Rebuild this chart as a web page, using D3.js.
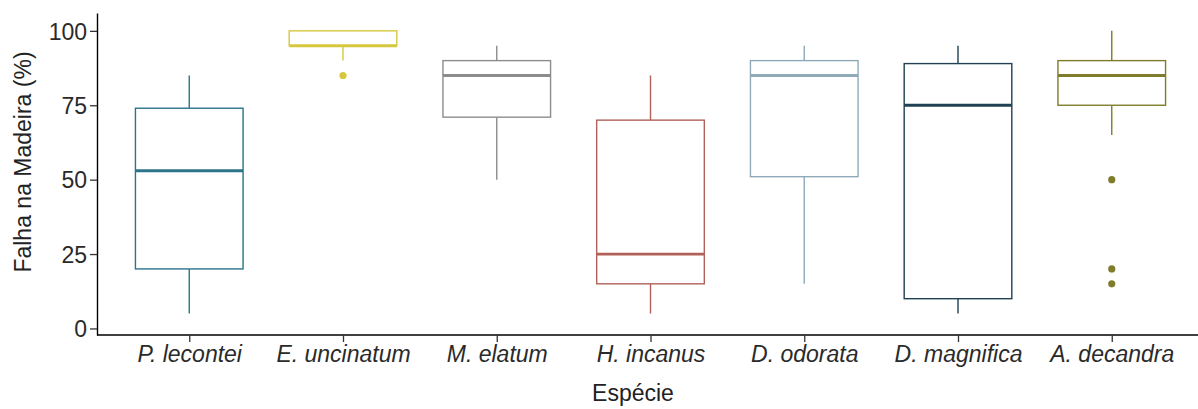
<!DOCTYPE html>
<html>
<head>
<meta charset="utf-8">
<script src="https://cdn.jsdelivr.net/npm/d3@7"></script>
<style>
  body { margin: 0; background: #fff; }
  svg { font-family: "Liberation Sans", Arial, sans-serif; }
</style>
</head>
<body>
<div id="chart"></div>
<script>
var width = 1198,
    height = 409;

// data
var species = ["P. lecontei", "E. uncinatum", "M. elatum", "H. incanus", "D. odorata", "D. magnifica", "A. decandra"];
var colors = ["#2b7489", "#d6c83c", "#8c8c8c", "#b0625a", "#8fa9b8", "#1f4152", "#7f7d2c"];
var whiskerLow = [5, 90, 50, 5, 15, 5, 65];
var q1 = [20, 95, 71, 15, 51, 10, 75];
var medians = [53, 95, 85, 25, 85, 75, 85];
var q3 = [74, 100, 90, 70, 90, 89, 90];
var whiskerHigh = [85, 100, 95, 85, 95, 95, 100];
var outliers = [[], [85], [], [], [], [], [50, 20, 15]];
var yTicks = [0, 25, 50, 75, 100];

var svg = d3.select("#chart")
    .append("svg")
    .attr("width", width)
    .attr("height", height);

var x = d3.scalePoint()
    .domain(species)
    .range([97, 1204])
    .padding(0.6);

var y = d3.scaleLinear()
    .domain([-2.2, 106])
    .range([335, 13]);

var boxWidth = x.step() * 0.7;

var boxes = species.map((s, i) => ({
    name: s, color: colors[i], lo: whiskerLow[i], q1: q1[i],
    med: medians[i], q3: q3[i], hi: whiskerHigh[i], out: outliers[i]
}));

var g = svg.append("g");

var box = g.selectAll("g.box")
    .data(boxes)
    .join("g")
    .attr("class", "box");

// whiskers
box.append("line")
    .attr("x1", d => x(d.name)).attr("x2", d => x(d.name))
    .attr("y1", d => y(d.q3)).attr("y2", d => y(d.hi))
    .attr("stroke", d => d.color).attr("stroke-width", 1.4);
box.append("line")
    .attr("x1", d => x(d.name)).attr("x2", d => x(d.name))
    .attr("y1", d => y(d.q1)).attr("y2", d => y(d.lo))
    .attr("stroke", d => d.color).attr("stroke-width", 1.4);

// box
box.append("rect")
    .attr("x", d => x(d.name) - boxWidth / 2)
    .attr("width", boxWidth)
    .attr("y", d => y(d.q3))
    .attr("height", d => y(d.q1) - y(d.q3))
    .attr("fill", "#fff")
    .attr("stroke", d => d.color)
    .attr("stroke-width", 1.4);

// median
box.append("line")
    .attr("x1", d => x(d.name) - boxWidth / 2)
    .attr("x2", d => x(d.name) + boxWidth / 2)
    .attr("y1", d => y(d.med)).attr("y2", d => y(d.med))
    .attr("stroke", d => d.color).attr("stroke-width", 2.8);

// outliers
box.selectAll("circle")
    .data(d => d.out.map(v => ({ v: v, name: d.name, color: d.color })))
    .join("circle")
    .attr("cx", d => x(d.name))
    .attr("cy", d => y(d.v))
    .attr("r", 3.6)
    .attr("fill", d => d.color);

// axes
var yAxis = svg.append("g")
    .attr("transform", "translate(97,0)")
    .call(d3.axisLeft(y).tickValues(yTicks).tickSize(7).tickPadding(3).tickSizeOuter(0));
yAxis.select(".domain").attr("stroke", "#000").attr("stroke-width", 1.4);
yAxis.selectAll(".tick line").attr("stroke", "#333").attr("stroke-width", 1.3);
yAxis.selectAll(".tick text")
    .attr("fill", "#2a2a2a")
    .style("font-size", "23px")
    .attr("dy", "0.36em");

var xAxis = svg.append("g")
    .attr("transform", "translate(0,335)")
    .call(d3.axisBottom(x).tickSize(7).tickPadding(4).tickSizeOuter(0));
xAxis.select(".domain").attr("d", "M97,0H1198").attr("stroke", "#000").attr("stroke-width", 1.4);
xAxis.selectAll(".tick line").attr("stroke", "#333").attr("stroke-width", 1.3);
xAxis.selectAll(".tick text")
    .attr("fill", "#2a2a2a")
    .style("font-size", "23px")
    .style("font-style", "italic");

// axis titles
svg.append("text")
    .attr("x", 633)
    .attr("y", 401)
    .attr("text-anchor", "middle")
    .style("font-size", "23px")
    .attr("fill", "#222")
    .text("Espécie");

svg.append("text")
    .attr("transform", "translate(31,162) rotate(-90)")
    .attr("text-anchor", "middle")
    .style("font-size", "23px")
    .attr("fill", "#222")
    .text("Falha na Madeira (%)");
</script>
</body>
</html>
